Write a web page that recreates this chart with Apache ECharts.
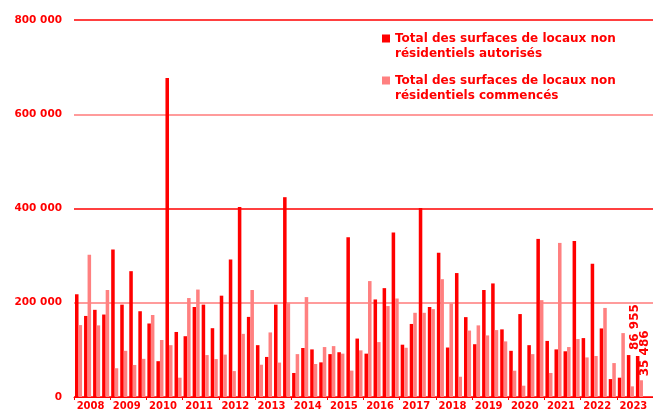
<!DOCTYPE html>
<html><head><meta charset="utf-8">
<script src="https://cdn.jsdelivr.net/npm/echarts@6/dist/echarts.min.js"></script>
<style>html,body{margin:0;padding:0;background:#fff}#c{width:653px;height:412px}</style>
</head><body><div id="c"></div>
<script>
const years = ['2008','2009','2010','2011','2012','2013','2014','2015','2016','2017','2018','2019','2020','2021','2022','2023'];
const quarters = ['T1','T2','T3','T4'];
const categories = [];
years.forEach(y => quarters.forEach(q => categories.push(y + ' ' + q)));

const autorises = [
  218000, 172000, 185000, 175000,
  313000, 196000, 267000, 182000,
  156000, 76000, 677000, 138000,
  129000, 191000, 196000, 146000,
  215000, 292000, 403000, 170000,
  110000, 85000, 196000, 424000,
  51000, 104000, 101000, 73500,
  91000, 95000, 339000, 124000,
  92000, 207000, 231000, 349000,
  111000, 155000, 401000, 191000,
  306000, 105000, 263000, 169500,
  112000, 227000, 241000, 143500,
  98000, 176000, 110000, 335500,
  119000, 101000, 97000, 331000,
  125000, 283000, 145500, 38000,
  41000, 89000, 86955, null
];
const commences = [
  152600, 301600, 152000, 227000,
  61000, 98000, 68000, 81000,
  174000, 121000, 110000, 41000,
  210000, 228000, 89000, 80500,
  90000, 55000, 134000, 227000,
  68500, 137000, 73000, 200000,
  91000, 212000, 70000, 106000,
  108000, 92000, 56000, 99000,
  246000, 116500, 193000, 209000,
  104500, 178700, 178700, 186500,
  250000, 198500, 43000, 141000,
  152000, 130700, 142000, 118000,
  55800, 24000, 91000, 205500,
  51000, 327000, 106000, 123000,
  84000, 87000, 189000, 72000,
  135600, 22600, 35486, null
];
const yTicks = [0, 200000, 400000, 600000, 800000];
const seriesNames = [
  'Total des surfaces de locaux non\nrésidentiels autorisés',
  'Total des surfaces de locaux non\nrésidentiels commencés'
];

const fmt = v => String(v).replace(/\B(?=(\d{3})+(?!\d))/g, ' ');
const lastIdx = 62;
function withLabel(arr, dy, dist) {
  return arr.map((v, i) => i === lastIdx ? {
    value: v,
    label: {show: true, position: 'top', rotate: 90, align: 'left', verticalAlign: 'middle',
      distance: dist, offset: [0, dy], color: '#ff0000', fontWeight: 'bold', fontSize: 12,
      fontFamily: 'DejaVu Sans', formatter: p => fmt(p.value)}
  } : v);
}

// square icon placed at the top of a tall icon box so it lines up with the first text line
const legendIcon = 'path://M0,3.5h8v8h-8z M0,0h0.01v0.01h-0.01z M0,30h0.01v0.01h-0.01z';

const chart = echarts.init(document.getElementById('c'), null, {renderer: 'canvas'});
chart.setOption({
  animation: false,
  grid: {left: 74, top: 20, width: 581, height: 377, containLabel: false},
  legend: {
    orient: 'vertical', left: 382, top: 31, padding: 0, itemWidth: 8, itemHeight: 30, itemGap: 12,
    icon: legendIcon,
    data: seriesNames,
    textStyle: {color: '#ff0000', fontWeight: 'bold', fontSize: 12, fontFamily: 'DejaVu Sans',
      lineHeight: 15}
  },
  xAxis: {
    type: 'category', data: categories, boundaryGap: true,
    axisLine: {lineStyle: {color: '#ff0000', width: 1}},
    axisTick: {show: true, interval: 3, length: 3, lineStyle: {color: '#ff0000'}},
    axisLabel: {
      interval: i => i % 4 === 1,
      formatter: v => v.split(' ')[0],
      color: '#ff0000', fontWeight: 'bold', fontSize: 10, fontFamily: 'DejaVu Sans',
      margin: 4, padding: [0, 0, 0, 6]
    },
    splitLine: {show: false}
  },
  yAxis: {
    type: 'value', min: yTicks[0], max: yTicks[yTicks.length - 1], interval: 200000,
    axisLine: {show: false}, axisTick: {show: false},
    axisLabel: {color: '#ff0000', fontWeight: 'bold', fontSize: 10.5, fontFamily: 'DejaVu Sans',
      margin: 12, formatter: v => fmt(v)},
    splitLine: {lineStyle: {color: ['#ff0000', '#ff7a7a', '#ff0000', '#ff7a7a', '#ff0000'], width: 1.5}}
  },
  series: [
    {name: seriesNames[0], type: 'bar', data: withLabel(autorises, -3, 6), barGap: '0%', barCategoryGap: '22%',
      itemStyle: {color: '#ff0000'}},
    {name: seriesNames[1], type: 'bar', data: withLabel(commences, 4, 4), barGap: '0%', barCategoryGap: '22%',
      itemStyle: {color: '#ff8080'}}
  ]
});
</script></body></html>
